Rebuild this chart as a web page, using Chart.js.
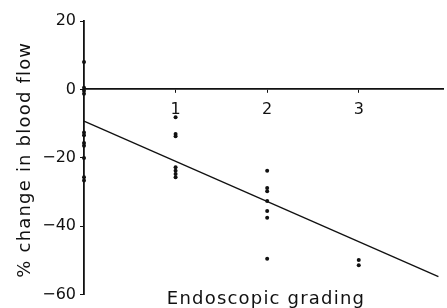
<!DOCTYPE html>
<html>
<head>
<meta charset="utf-8">
<script src="https://cdn.jsdelivr.net/npm/chart.js@4.4.1/dist/chart.umd.min.js"></script>
<style>
  html, body { margin: 0; padding: 0; background: #fff; }
</style>
</head>
<body>
<canvas id="grading_chart" width="447" height="308"></canvas>
<script>
// blood flow change (%)
const grades = [0, 1, 2, 3];
const flow_grade0 = [8, 0.5, -0.4, -1.3, -12.6, -13.4, -15.7, -16.5, -20.1, -25.7, -26.7];
const flow_grade1 = [-8.2, -13.1, -13.7, -22.8, -23.8, -24.8, -25.7];
const flow_grade2 = [-23.8, -28.9, -29.8, -32.7, -35.6, -37.6, -49.6];
const flow_grade3 = [-49.9, -51.5];

// regression line end points
const fit_x = [0, 3.87];
const fit_y = [-9.3, -54.8];

const y_ticks = [20, 0, -20, -40, -60];
const x_ticks = [1, 2, 3];

const all_flows = [flow_grade0, flow_grade1, flow_grade2, flow_grade3];
const pontos = [];
all_flows.forEach(function (lista, i) {
    lista.forEach(function (v) {
        pontos.push({ x: grades[i], y: v });
    });
});

const fit_points = fit_x.map(function (x, i) { return { x: x, y: fit_y[i] }; });

const titulos_eixos = {
    id: 'titulos_eixos',
    afterDraw(chart) {
        const ctx = chart.ctx;
        const area = chart.chartArea;
        ctx.save();
        ctx.fillStyle = '#111';
        ctx.font = '18px "DejaVu Sans"';
        ctx.letterSpacing = '1.2px';
        ctx.textAlign = 'center';
        ctx.textBaseline = 'alphabetic';
        ctx.fillText('Endoscopic grading', 266, 304);
        ctx.translate(30, (area.top + area.bottom) / 2 + 2);
        ctx.rotate(-Math.PI / 2);
        ctx.fillText('% change in blood flow', 0, 0);
        ctx.restore();
    }
};

const config_grading = {
    type: 'scatter',
    data: {
        datasets: [{
            label: 'pontos',
            data: pontos,
            backgroundColor: '#111',
            borderWidth: 0,
            pointRadius: 2,
            clip: false
        }, {
            label: 'regressao',
            type: 'line',
            data: fit_points,
            borderColor: '#111',
            borderWidth: 1.3,
            pointRadius: 0,
            fill: false,
            clip: false
        }]
    },
    plugins: [titulos_eixos],
    options: {
        responsive: false,
        animation: false,
        layout: { padding: { top: 21, bottom: 13, right: 0, left: 0 } },
        plugins: {
            legend: { display: false },
            tooltip: { enabled: false }
        },
        scales: {
            x: {
                type: 'linear',
                position: { y: 0 },
                min: 0,
                max: 3.92,
                afterBuildTicks(scale) {
                    scale.ticks = x_ticks.map(function (v) { return { value: v }; });
                },
                ticks: {
                    color: '#111',
                    font: { family: 'DejaVu Sans', size: 16 },
                    padding: 8,
                    maxRotation: 0
                },
                grid: { drawOnChartArea: false, drawTicks: true, tickLength: 3, color: '#111', lineWidth: 1 },
                border: { display: true, color: '#111', width: 1.8 }
            },
            y: {
                type: 'linear',
                min: -60,
                max: 20,
                afterBuildTicks(scale) {
                    scale.ticks = y_ticks.map(function (v) { return { value: v }; });
                },
                afterFit(scale) {
                    scale.width = 84;
                },
                ticks: {
                    color: '#111',
                    font: { family: 'DejaVu Sans', size: 16 },
                    padding: 4,
                    callback: function (v) { return v < 0 ? '\u2212' + Math.abs(v) : String(v); }
                },
                grid: { drawOnChartArea: false, drawTicks: true, tickLength: 4, color: '#111', lineWidth: 1 },
                border: { display: true, color: '#111', width: 1.8 }
            }
        }
    }
};

const grafico_grading = new Chart(
    document.getElementById('grading_chart'),
    config_grading
);
</script>
</body>
</html>
